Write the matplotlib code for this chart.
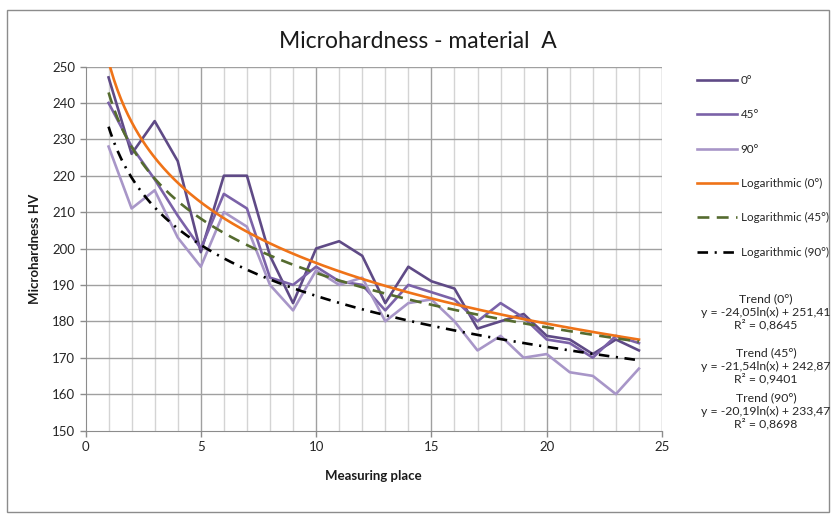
import numpy as np
import matplotlib
matplotlib.use('Agg')
import matplotlib.pyplot as plt
from matplotlib.patches import Rectangle

## data
place = list(range(1, 25))
hv_0 = [247, 226, 235, 224, 199, 220, 220, 198, 185, 200, 202, 198,
        185, 195, 191, 189, 178, 180, 182, 176, 175, 171, 175, 172]
hv_45 = [240, 228, 219, 209, 200, 215, 211, 192, 190, 195, 191, 190,
         183, 190, 188, 186, 180, 185, 181, 175, 174, 170, 176, 174]
hv_90 = [228, 211, 216, 203, 195, 210, 206, 190, 183, 194, 190, 192,
         180, 185, 186, 180, 172, 176, 170, 171, 166, 165, 160, 167]

series_names = ['0°', '45°', '90°']
trend_a = [-24.05, -21.54, -20.19]
trend_b = [251.41, 242.87, 233.47]
trend_r2 = ['0,8645', '0,9401', '0,8698']

x_ticks = [0, 5, 10, 15, 20, 25]
y_ticks = list(range(150, 251, 10))

plt.rcParams['font.family'] = ['Lato', 'DejaVu Sans']

W, H = 835, 518
fig = plt.figure(figsize=(W / 100, H / 100), dpi=100)

# chart border
fig.patches.append(Rectangle((7 / W, 1 - 512 / H), 822 / W, 502 / H,
                             transform=fig.transFigure, fill=False,
                             edgecolor='#8c8c8c', linewidth=1))

left, right, top, bottom = 85.5, 662, 66.5, 430.5
ax = fig.add_axes([left / W, 1 - bottom / H, (right - left) / W, (bottom - top) / H])

# grid
for xv in range(1, 25):
    if xv % 5:
        ax.axvline(xv, color='#d4d4d4', lw=1, zorder=0)
for xv in x_ticks[1:]:
    ax.axvline(xv, color='#a0a0a0', lw=1, zorder=0.5)
for yv in y_ticks[1:]:
    ax.axhline(yv, color='#a0a0a0', lw=1, zorder=0.5)

colors = ['#5f4a86', '#7b62a8', '#a896c8']
hv_all = [hv_0, hv_45, hv_90]
for vals, c, name in zip(hv_all, colors, series_names):
    ax.plot(place, vals, color=c, lw=1.9, label=name, zorder=2)

xs = np.linspace(1, 24, 300)
trend_styles = [dict(color='#ef7318', lw=1.9, linestyle='-'),
                dict(color='#556b2f', lw=1.9, linestyle=(0, (4.5, 2.8))),
                dict(color='#000000', lw=1.9, linestyle=(0, (4, 2.5, 0.8, 2.5)))]
for a, b, st, name in zip(trend_a, trend_b, trend_styles, series_names):
    ax.plot(xs, a * np.log(xs) + b, label='Logarithmic (' + name + ')', zorder=3, **st)

ax.set_xlim(0, 25)
ax.set_ylim(150, 250)
ax.set_xticks(x_ticks)
ax.set_yticks(y_ticks)
ax.tick_params(axis='both', labelsize=9.5, colors='#8c8c8c', labelcolor='#262626',
               length=4, width=1, direction='out')
for s in ['top', 'right']:
    ax.spines[s].set_visible(False)
for s in ['left', 'bottom']:
    ax.spines[s].set_color('#8c8c8c')

ax.set_xlabel('Measuring place', fontsize=9.5, fontweight='bold', color='#1a1a1a', labelpad=12)
ax.set_ylabel('Microhardness HV', fontsize=9.5, fontweight='bold', color='#1a1a1a', labelpad=8)

fig.text(418 / W, 1 - 41 / H, 'Microhardness - material  A', fontsize=16.5,
         ha='center', va='center', color='#1a1a1a')

handles, labels = ax.get_legend_handles_labels()
fig.legend(handles, labels, loc='upper left', bbox_to_anchor=(697 / W, 1 - 75 / H),
           frameon=False, fontsize=8.4, handlelength=3.4, handletextpad=0.35,
           labelspacing=2.0, borderpad=0, borderaxespad=0, labelcolor='#262626')

# trend equations
cx = 766 / W
ys = [[299, 312, 325], [353, 366, 379], [398, 411, 424]]
for a, b, r2, name, yy in zip(trend_a, trend_b, trend_r2, series_names, ys):
    eq = 'y = %sln(x) + %s' % (('%.2f' % a).replace('.', ','), ('%.2f' % b).replace('.', ','))
    for txt, yp in zip(['Trend (' + name + ')', eq, 'R² = ' + r2], yy):
        fig.text(cx, 1 - yp / H, txt, fontsize=8.8, ha='center', va='center', color='#262626')

fig.savefig('out.png', dpi=100)
